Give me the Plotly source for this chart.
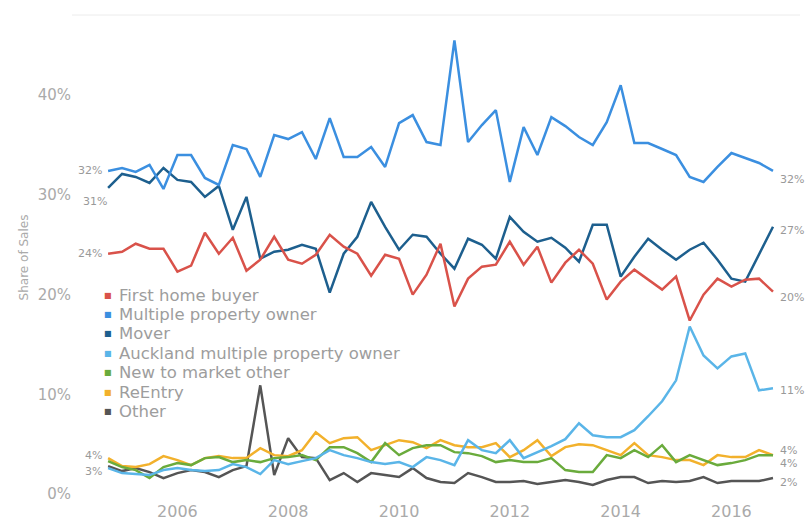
import pandas as pd
import plotly.graph_objects as go

# Quarterly buyer-type shares of property sales
quarters = pd.period_range("2004Q4", "2016Q4", freq="Q")
dates = quarters.start_time

first_home_buyer = [24.1, 24.3, 25.1, 24.6, 24.6, 22.3, 22.9, 26.2, 24.1, 25.7,
                    22.4, 23.5, 25.8, 23.5, 23.1, 24.0, 26.0, 24.8, 24.1, 21.9,
                    24.0, 23.6, 20.0, 22.0, 25.1, 18.8, 21.6, 22.8, 23.0, 25.3,
                    23.0, 24.8, 21.2, 23.2, 24.5, 23.1, 19.5, 21.3, 22.5, 21.5,
                    20.5, 21.8, 17.4, 20.0, 21.6, 20.8, 21.5, 21.6, 20.3]
multiple_owner = [32.4, 32.7, 32.3, 33.0, 30.6, 34.0, 34.0, 31.7, 31.0, 35.0,
                  34.6, 31.8, 36.0, 35.6, 36.3, 33.6, 37.7, 33.8, 33.8, 34.8,
                  32.8, 37.2, 38.0, 35.3, 35.0, 45.5, 35.3, 37.0, 38.5, 31.3,
                  36.8, 34.0, 37.8, 36.9, 35.8, 35.0, 37.3, 41.0, 35.2, 35.2,
                  34.6, 34.0, 31.8, 31.3, 32.8, 34.2, 33.7, 33.2, 32.4]
mover = [30.7, 32.1, 31.8, 31.2, 32.7, 31.5, 31.3, 29.8, 30.9, 26.5,
         29.8, 23.6, 24.3, 24.5, 25.0, 24.6, 20.2, 24.1, 25.8, 29.3,
         26.8, 24.5, 26.0, 25.8, 24.1, 22.6, 25.6, 25.0, 23.6, 27.8,
         26.3, 25.3, 25.7, 24.7, 23.3, 27.0, 27.0, 21.8, 23.8, 25.6,
         24.5, 23.5, 24.5, 25.2, 23.5, 21.6, 21.3, 24.0, 26.8]
auckland_multiple = [2.6, 2.1, 2.0, 1.9, 2.4, 2.6, 2.4, 2.3, 2.4, 3.0,
                     2.7, 2.0, 3.4, 3.0, 3.3, 3.6, 4.4, 3.9, 3.6, 3.2,
                     3.0, 3.2, 2.7, 3.7, 3.4, 2.9, 5.4, 4.4, 4.1, 5.4,
                     3.6, 4.2, 4.8, 5.5, 7.1, 5.9, 5.7, 5.7, 6.4, 7.8,
                     9.3, 11.4, 16.8, 13.9, 12.6, 13.8, 14.1, 10.4, 10.6]
new_to_market = [3.3, 2.7, 2.4, 1.6, 2.7, 3.1, 2.9, 3.6, 3.7, 3.2,
                 3.4, 3.2, 3.6, 3.7, 3.9, 3.4, 4.7, 4.7, 4.1, 3.2,
                 5.1, 3.9, 4.6, 4.9, 4.9, 4.2, 4.1, 3.8, 3.2, 3.4,
                 3.2, 3.2, 3.6, 2.4, 2.2, 2.2, 3.9, 3.6, 4.4, 3.7,
                 4.9, 3.2, 3.9, 3.4, 2.9, 3.1, 3.4, 3.9, 3.9]
re_entry = [3.6, 2.8, 2.7, 3.0, 3.8, 3.4, 2.9, 3.6, 3.8, 3.6,
            3.6, 4.6, 3.9, 3.8, 4.4, 6.2, 5.1, 5.6, 5.7, 4.4,
            4.9, 5.4, 5.2, 4.6, 5.4, 4.9, 4.7, 4.7, 5.1, 3.7,
            4.4, 5.4, 3.8, 4.7, 5.0, 4.9, 4.4, 3.9, 5.1, 3.9,
            3.7, 3.4, 3.4, 2.9, 3.9, 3.7, 3.7, 4.4, 3.9]
other = [2.8, 2.3, 2.6, 2.2, 1.6, 2.1, 2.4, 2.2, 1.7, 2.4,
         2.8, 10.9, 1.9, 5.6, 3.7, 3.6, 1.4, 2.1, 1.2, 2.1,
         1.9, 1.7, 2.6, 1.6, 1.2, 1.1, 2.1, 1.7, 1.2, 1.2,
         1.3, 1.0, 1.2, 1.4, 1.2, 0.9, 1.4, 1.7, 1.7, 1.1,
         1.3, 1.2, 1.3, 1.7, 1.1, 1.3, 1.3, 1.3, 1.6]

series_names = ["First home buyer", "Multiple property owner", "Mover",
                "Auckland multiple property owner", "New to market other",
                "ReEntry", "Other"]
series_values = [first_home_buyer, multiple_owner, mover, auckland_multiple,
                 new_to_market, re_entry, other]
series_colors = ["#d9524a", "#3b8fe0", "#1d5f8e", "#5ab5e8", "#6aab3c",
                 "#f2b12c", "#555555"]
draw_order = [6, 5, 4, 3, 2, 1, 0]

y_ticks = [0, 10, 20, 30, 40]
y_tick_text = [f"{v}%" for v in y_ticks]

# End-point labels: (series index, y pixel shift)
left_labels = [(1, 0), (2, -14), (0, 0), (5, 3), (3, -3)]
right_labels = [(1, -9), (2, -4), (0, -6), (3, -2), (4, 5), (5, -8), (6, -4)]

fig = go.Figure()
for k in draw_order:
    fig.add_trace(go.Scatter(
        x=dates, y=series_values[k], name=series_names[k], mode="lines",
        line=dict(color=series_colors[k], width=2.5), showlegend=False))

label_font = dict(family="DejaVu Sans", size=11, color="#999999")
for k, dy in left_labels:
    fig.add_annotation(x=dates[0], y=series_values[k][0], xref="x", yref="y",
                       text=f"{round(series_values[k][0])}%", showarrow=False,
                       xanchor="right", xshift=-4 + (5 if k == 2 else 0),
                       yshift=dy, font=label_font)
for k, dy in right_labels:
    fig.add_annotation(x=dates[-1], y=series_values[k][-1], xref="x", yref="y",
                       text=f"{round(series_values[k][-1])}%", showarrow=False,
                       xanchor="left", xshift=5, yshift=dy, font=label_font)

# Legend drawn as a compact list of coloured squares and names
plot_left, plot_right, plot_top, plot_bottom = 72, 800, 15, 500
def px_to_paper_x(px):
    return (px - plot_left) / (plot_right - plot_left)
def px_to_paper_y(py):
    return (plot_bottom - py) / (plot_bottom - plot_top)

for i, (name, color) in enumerate(zip(series_names, series_colors)):
    row_y = 295 + i * 19.4
    fig.add_annotation(x=px_to_paper_x(108), y=px_to_paper_y(row_y),
                       xref="paper", yref="paper", text="■", showarrow=False,
                       xanchor="center", yanchor="middle",
                       font=dict(family="DejaVu Sans", size=8, color=color))
    fig.add_annotation(x=px_to_paper_x(117), y=px_to_paper_y(row_y),
                       xref="paper", yref="paper", text=name, showarrow=False,
                       xanchor="left", yanchor="middle",
                       font=dict(family="DejaVu Sans", size=16.5, color="#9d9d9d"))

fig.add_shape(type="line", xref="paper", yref="paper", x0=0, x1=1, y0=1, y1=1,
              line=dict(color="#ececec", width=1))

fig.update_layout(
    width=806, height=519,
    margin=dict(l=plot_left, r=806 - plot_right, t=plot_top, b=519 - plot_bottom),
    paper_bgcolor="white", plot_bgcolor="white",
    font=dict(family="DejaVu Sans", color="#aaaaaa"),
)
fig.update_xaxes(
    type="date", range=["2004-02-06", "2017-03-28"],
    tick0="2006-01-01", dtick="M24", tickformat="%Y",
    showgrid=False, zeroline=False, showline=False, ticks="",
    tickfont=dict(size=16, color="#aaaaaa"), automargin=False,
)
fig.update_yaxes(
    range=[-0.6, 48.04], tickmode="array", tickvals=y_ticks, ticktext=y_tick_text,
    showgrid=False, zeroline=False, showline=False, ticks="",
    tickfont=dict(size=15, color="#aaaaaa"),
    title=dict(text="Share of Sales", font=dict(size=12, color="#aaaaaa"),
               standoff=6),
    automargin=False,
)

fig.write_html("out.html")
